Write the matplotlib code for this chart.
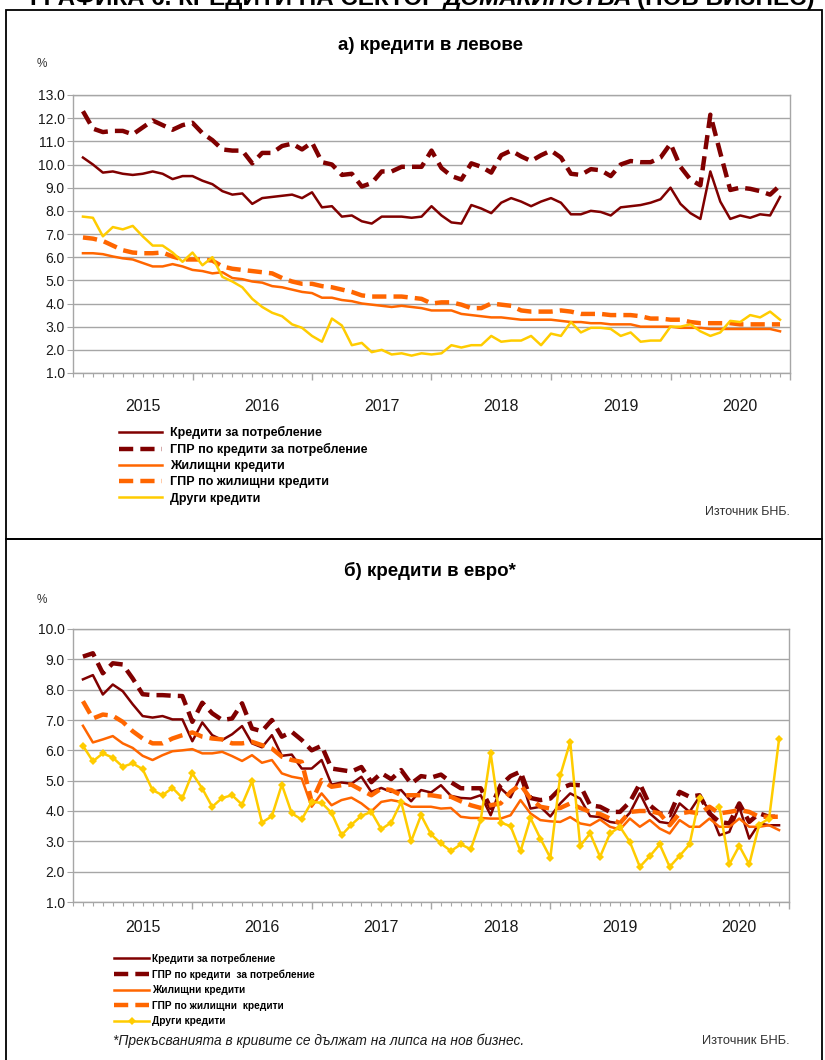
import numpy as np
import matplotlib
matplotlib.use('Agg')
import matplotlib.pyplot as plt
from matplotlib.patches import Rectangle
from matplotlib import font_manager

plt.rcParams['font.family'] = ['Liberation Sans', 'DejaVu Sans']

# месечни данни: януари 2015 - ноември 2020
years = ['2015', '2016', '2017', '2018', '2019', '2020']
labels = ['Кредити за потребление', 'ГПР по кредити за потребление',
          'Жилищни кредити', 'ГПР по жилищни кредити', 'Други кредити']
labels_eur = ['Кредити за потребление', 'ГПР по кредити  за потребление',
              'Жилищни кредити', 'ГПР по жилищни  кредити', 'Други кредити']

# а) кредити в левове
lev_consumer = [10.3, 10.0, 9.65, 9.7, 9.6, 9.55, 9.6, 9.7, 9.6, 9.37, 9.5, 9.5,
                9.3, 9.15, 8.85, 8.7, 8.75, 8.3, 8.55, 8.6, 8.65, 8.7, 8.55, 8.8,
                8.15, 8.2, 7.75, 7.8, 7.55, 7.45, 7.75, 7.75, 7.75, 7.7, 7.75, 8.2,
                7.8, 7.5, 7.45, 8.25, 8.1, 7.9, 8.35, 8.55, 8.4, 8.2, 8.4, 8.55,
                8.35, 7.85, 7.85, 8.0, 7.95, 7.8, 8.15, 8.2, 8.25, 8.35, 8.5, 9.0,
                8.3, 7.9, 7.65, 9.7, 8.4, 7.65, 7.8, 7.7, 7.85, 7.8, 8.6]
lev_consumer_apr = [12.3, 11.55, 11.4, 11.45, 11.45, 11.3, 11.6, 11.9, 11.7, 11.5, 11.7, 11.8,
                    11.35, 11.05, 10.65, 10.6, 10.6, 10.05, 10.5, 10.5, 10.8, 10.9, 10.65, 10.95,
                    10.1, 10.0, 9.55, 9.6, 9.05, 9.2, 9.7, 9.7, 9.9, 9.9, 9.9, 10.6,
                    9.85, 9.5, 9.35, 10.05, 9.9, 9.65, 10.4, 10.6, 10.35, 10.15, 10.4, 10.6,
                    10.3, 9.6, 9.55, 9.8, 9.75, 9.5, 10.0, 10.15, 10.1, 10.1, 10.3, 10.9,
                    9.9, 9.35, 9.1, 12.15, 10.5, 8.9, 9.0, 8.95, 8.85, 8.7, 9.1]
lev_housing = [6.17, 6.17, 6.13, 6.03, 5.95, 5.9, 5.75, 5.6, 5.6, 5.7, 5.6, 5.45,
               5.4, 5.3, 5.35, 5.1, 5.05, 4.95, 4.9, 4.75, 4.7, 4.6, 4.5, 4.45,
               4.25, 4.25, 4.15, 4.1, 4.0, 3.95, 3.9, 3.85, 3.9, 3.85, 3.8, 3.7,
               3.7, 3.7, 3.55, 3.5, 3.45, 3.4, 3.4, 3.35, 3.3, 3.3, 3.3, 3.3,
               3.25, 3.2, 3.2, 3.15, 3.15, 3.1, 3.1, 3.1, 3.0, 3.0, 3.0, 3.0,
               2.95, 2.95, 2.95, 2.9, 2.9, 2.9, 2.9, 2.9, 2.9, 2.9, 2.8]
lev_housing_apr = [6.85, 6.8, 6.7, 6.5, 6.3, 6.2, 6.17, 6.17, 6.2, 6.03, 5.9, 5.9,
                   5.9, 5.85, 5.6, 5.5, 5.45, 5.4, 5.35, 5.3, 5.1, 4.95, 4.85, 4.85,
                   4.75, 4.7, 4.6, 4.5, 4.35, 4.3, 4.3, 4.3, 4.3, 4.25, 4.2, 4.0,
                   4.05, 4.05, 3.95, 3.8, 3.8, 4.0, 3.95, 3.9, 3.7, 3.65, 3.65, 3.65,
                   3.7, 3.65, 3.55, 3.55, 3.55, 3.5, 3.5, 3.5, 3.45, 3.35, 3.35, 3.3,
                   3.3, 3.2, 3.15, 3.15, 3.15, 3.15, 3.1, 3.1, 3.1, 3.1, 3.1]
lev_other = [7.75, 7.7, 6.9, 7.3, 7.2, 7.35, 6.9, 6.5, 6.5, 6.2, 5.8, 6.2,
             5.65, 6.0, 5.15, 4.95, 4.7, 4.2, 3.85, 3.6, 3.45, 3.1, 2.95, 2.6,
             2.35, 3.35, 3.05, 2.2, 2.3, 1.9, 2.0, 1.8, 1.85, 1.75, 1.85, 1.8,
             1.85, 2.2, 2.1, 2.2, 2.2, 2.6, 2.35, 2.4, 2.4, 2.6, 2.2, 2.7,
             2.6, 3.2, 2.75, 2.95, 2.95, 2.9, 2.6, 2.75, 2.35, 2.4, 2.4, 3.0,
             3.0, 3.1, 2.8, 2.6, 2.75, 3.25, 3.2, 3.5, 3.4, 3.65, 3.3]

# б) кредити в евро
eur_consumer = [8.34, 8.48, 7.84, 8.17, 7.95, 7.52, 7.13, 7.08, 7.13, 7.02, 7.02, 6.3,
                6.92, 6.5, 6.34, 6.53, 6.8, 6.23, 6.1, 6.5, 5.82, 5.86, 5.4, 5.4,
                5.68, 4.87, 4.94, 4.9, 5.13, 4.63, 4.76, 4.63, 4.69, 4.32, 4.69, 4.61,
                4.85, 4.5, 4.43, 4.41, 4.52, 3.86, 4.75, 4.45, 5.13, 4.08, 4.14, 3.82,
                4.25, 4.58, 4.41, 3.83, 3.8, 3.64, 3.59, 3.94, 4.58, 3.92, 3.64, 3.59,
                4.25, 3.97, 4.47, 4.03, 3.2, 3.31, 4.14, 3.09, 3.59, 3.53, 3.53]
eur_consumer_apr = [9.09, 9.2, 8.54, 8.87, 8.83, 8.37, 7.85, 7.82, 7.82, 7.8, 7.79, 6.94,
                    7.57, 7.22, 7.0, 7.05, 7.55, 6.72, 6.63, 7.0, 6.45, 6.61, 6.34, 6.0,
                    6.15, 5.4, 5.35, 5.3, 5.45, 4.95, 5.25, 5.05, 5.35, 4.9, 5.15, 5.1,
                    5.2, 4.95, 4.75, 4.75, 4.75, 4.1, 4.85, 5.15, 5.3, 4.43, 4.36, 4.41,
                    4.74, 4.87, 4.85, 4.19, 4.14, 3.97, 3.97, 4.3, 4.9, 4.19, 3.92, 3.86,
                    4.63, 4.47, 4.52, 3.92, 3.64, 3.59, 4.25, 3.64, 3.92, 3.81, 3.81]
eur_housing = [6.81, 6.26, 6.36, 6.47, 6.23, 6.08, 5.82, 5.68, 5.84, 5.97, 6.0, 6.04,
               5.9, 5.9, 5.95, 5.81, 5.65, 5.84, 5.59, 5.68, 5.24, 5.13, 5.07, 4.14,
               4.58, 4.19, 4.36, 4.44, 4.25, 3.99, 4.3, 4.36, 4.3, 4.14, 4.14, 4.14,
               4.08, 4.1, 3.81, 3.77, 3.77, 3.75, 3.75, 3.86, 4.36, 3.92, 3.7, 3.66,
               3.64, 3.8, 3.59, 3.53, 3.72, 3.48, 3.39, 3.75, 3.48, 3.7, 3.42, 3.26,
               3.7, 3.48, 3.48, 3.75, 3.48, 3.48, 3.75, 3.48, 3.48, 3.53, 3.37]
eur_housing_apr = [7.62, 7.05, 7.18, 7.14, 6.94, 6.63, 6.39, 6.23, 6.23, 6.39, 6.5, 6.59,
                   6.45, 6.39, 6.36, 6.23, 6.23, 6.28, 6.17, 6.06, 5.79, 5.68, 5.62, 4.3,
                   5.02, 4.8, 4.85, 4.87, 4.69, 4.52, 4.74, 4.69, 4.52, 4.52, 4.52, 4.52,
                   4.47, 4.47, 4.32, 4.19, 4.1, 4.19, 4.25, 4.63, 4.87, 4.41, 4.14, 4.08,
                   4.1, 4.25, 4.1, 3.97, 3.9, 3.75, 3.6, 3.97, 4.0, 4.0, 3.92, 3.53,
                   3.92, 3.97, 3.92, 4.14, 3.92, 3.97, 4.03, 3.97, 3.81, 3.81, 3.81]
eur_other = [6.15, 5.64, 5.9, 5.76, 5.46, 5.57, 5.38, 4.69, 4.52, 4.76, 4.43, 5.24,
             4.74, 4.14, 4.43, 4.52, 4.21, 4.98, 3.62, 3.83, 4.87, 3.92, 3.72, 4.3,
             4.27, 3.94, 3.2, 3.55, 3.84, 3.97, 3.4, 3.62, 4.3, 3.0, 3.86, 3.23,
             2.93, 2.68, 2.9, 2.74, 3.7, 5.9, 3.62, 3.5, 2.67, 3.77, 3.09, 2.46,
             5.18, 6.28, 2.85, 3.26, 2.49, 3.26, 3.48, 2.98, 2.16, 2.51, 2.9, 2.16,
             2.52, 2.9, 4.44, np.nan, 4.14, 2.24, 2.85, 2.24, 3.55, 3.75, 6.37]

DARK = '#800000'
ORANGE = '#FF6600'
YELLOW = '#FFCC00'
GRID = '#A6A6A6'

# тесен шрифт за долната легенда, ако го има
installed = {f.name for f in font_manager.fontManager.ttflist}
NARROW = ['Liberation Sans Narrow'] if 'Liberation Sans Narrow' in installed else []

W, H = 825, 1060
fig = plt.figure(figsize=(W / 100, H / 100), dpi=100)
renderer = fig.canvas.get_renderer()


def fx(px):
    return px / W


def fy(py):
    return 1 - py / H


def draw_panel(ax, series, ymax, markers, year_off):
    x = np.arange(len(series[0]))
    styles = [dict(color=DARK, lw=1.8),
              dict(color=DARK, lw=3.2, dashes=(3.2, 1.6)),
              dict(color=ORANGE, lw=1.8),
              dict(color=ORANGE, lw=3.2, dashes=(3.2, 1.6)),
              dict(color=YELLOW, lw=1.8)]
    if markers:
        styles[4].update(marker='D', markersize=4.5, markeredgewidth=0)
    handles = []
    for s, st in zip(series, styles):
        h, = ax.plot(x, s, **st)
        handles.append(h)
    ax.set_ylim(1, ymax)
    ax.set_xlim(-0.93, 71.0)
    ax.set_yticks(np.arange(1, ymax + 0.1, 1))
    ax.set_yticklabels(['%.1f' % v for v in np.arange(1, ymax + 0.1, 1)])
    ax.yaxis.grid(True, color=GRID, lw=1)
    ax.set_axisbelow(True)
    ax.set_xticks([11, 23, 35, 47, 59, 71])
    ax.set_xticks(np.arange(-1, 72), minor=True)
    ax.set_xticklabels([])
    ax.tick_params(axis='x', which='major', length=5, color=GRID, width=1)
    ax.tick_params(axis='x', which='minor', length=3, color=GRID, width=0.8)
    ax.tick_params(axis='y', length=4, color=GRID, labelsize=10, pad=2,
                   labelcolor='#1a1a1a')
    for sp in ax.spines.values():
        sp.set_color(GRID)
        sp.set_linewidth(1)
    for k, yr in enumerate(years):
        ax.annotate(yr, xy=(6 + 12 * k, 0), xycoords=('data', 'axes fraction'),
                    xytext=(0, -year_off), textcoords='offset points',
                    ha='center', va='center', fontsize=11.5, color='#1a1a1a')
    return handles


# рамки на двете графики
fig.add_artist(Rectangle((fx(6), fy(539)), fx(822) - fx(6), fy(10) - fy(539),
                         transform=fig.transFigure, fill=False, ec='black', lw=1.3))
fig.add_artist(Rectangle((fx(6), fy(1062)), fx(822) - fx(6), fy(539) - fy(1062),
                         transform=fig.transFigure, fill=False, ec='black', lw=1.3))

# заглавие (отрязано в горния край, както в оригинала)
parts = [('ГРАФИКА 6. КРЕДИТИ НА СЕКТОР', 'normal'), ('ДОМАКИНСТВА', 'italic'),
         ('(НОВ БИЗНЕС)', 'normal')]
xpos = 30
for txt, st in parts:
    t = fig.text(fx(xpos), fy(5), txt, fontsize=17.4, fontweight='bold', style=st,
                 va='baseline', ha='left')
    xpos = t.get_window_extent(renderer).x1 + 5

# а) кредити в левове
ax1 = fig.add_axes([fx(73), fy(373), fx(790) - fx(73), fy(95) - fy(373)])
h1 = draw_panel(ax1, [lev_consumer, lev_consumer_apr, lev_housing,
                      lev_housing_apr, lev_other], 13, False, 24)
fig.text(fx(430), fy(45), 'а) кредити в левове', fontsize=13.5, fontweight='bold',
         ha='center', va='center')
fig.text(fx(42), fy(64), '%', fontsize=8.5, ha='center', va='center', color='#333333')
fig.legend(h1, labels, loc='upper left', bbox_to_anchor=(fx(119), fy(426)),
           frameon=False, prop=dict(weight='bold', size=9), handlelength=3.4,
           handletextpad=0.65, labelspacing=0.33, borderpad=0, borderaxespad=0)
fig.text(fx(790), fy(512), 'Източник БНБ.', fontsize=9, ha='right', va='center',
         color='#333333')

# б) кредити в евро
ax2 = fig.add_axes([fx(73), fy(902), fx(789) - fx(73), fy(629) - fy(902)])
h2 = draw_panel(ax2, [eur_consumer, eur_consumer_apr, eur_housing,
                      eur_housing_apr, eur_other], 10, True, 18)
fig.text(fx(430), fy(571), 'б) кредити в евро*', fontsize=13.5, fontweight='bold',
         ha='center', va='center')
fig.text(fx(42), fy(600), '%', fontsize=8.5, ha='center', va='center', color='#333333')
leg_size = 8.5 if NARROW else 7.3
fig.legend(h2, labels_eur, loc='upper left', bbox_to_anchor=(fx(114), fy(953)),
           frameon=False,
           prop=dict(weight='bold', size=leg_size,
                     family=NARROW + ['Liberation Sans', 'DejaVu Sans']),
           handlelength=3.0 * 8.5 / leg_size, handletextpad=0.3,
           labelspacing=(15.5 / 1.39 - leg_size) / leg_size + 0.02,
           borderpad=0, borderaxespad=0)
fig.text(fx(113), fy(1041), '*Прекъсванията в кривите се дължат на липса на нов бизнес.',
         fontsize=9.9, style='italic', ha='left', va='center', color='#1a1a1a')
fig.text(fx(790), fy(1041), 'Източник БНБ.', fontsize=9.3, ha='right', va='center',
         color='#333333')

fig.savefig('out.png', dpi=100)
